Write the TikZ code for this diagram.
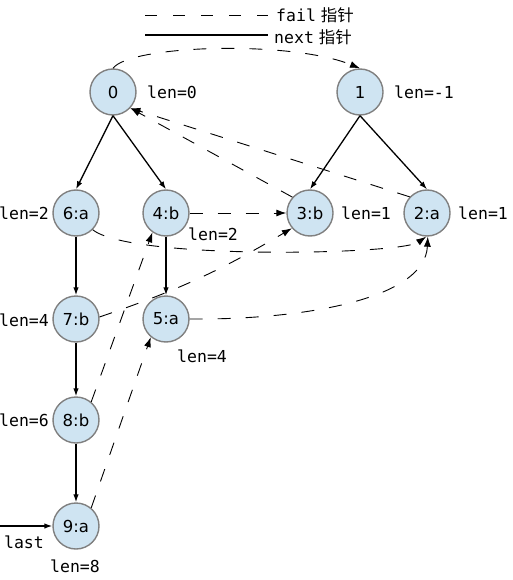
\documentclass[tikz,border=0pt]{standalone}
\usepackage{fontspec}
\setmainfont{DejaVu Sans}
\setmonofont{DejaVu Sans Mono}
\newfontfamily\cjk{Noto Sans CJK SC}
\usetikzlibrary{arrows.meta}
\definecolor{nodefill}{RGB}{207,228,242}
\definecolor{nodeline}{RGB}{128,128,128}
\begin{document}
\begin{tikzpicture}[x=1pt,y=-1pt,
  state/.style={circle,draw=nodeline,line width=1.4pt,fill=nodefill,minimum size=46pt,inner sep=0pt,font=\fontsize{16.5}{18}\selectfont},
  lab/.style={inner sep=0pt,font=\ttfamily\fontsize{16.5}{18}\selectfont},
  nextedge/.style={line width=1.3pt,-{Latex[length=8pt,width=5.5pt]}},
  failedge/.style={line width=0.9pt,dash pattern=on 13pt off 15pt,-{Latex[length=10pt,width=7pt]}},
]
\useasboundingbox (0,0) rectangle (512,580);
% legend
\coordinate (fa) at (145,15); \coordinate (fb) at (268,15);
\coordinate (na) at (145,35); \coordinate (nb) at (268,35);
\draw[line width=0.9pt,dash pattern=on 12pt off 16pt] (fa) -- (fb);
\draw[line width=1.3pt] (na) -- (nb);
\node[lab,anchor=west] (lf) at (276,15) {fail\hspace{5pt}{\cjk 指针}};
\node[lab,anchor=west] (ln) at (274,37) {next\hspace{5pt}{\cjk 指针}};
% nodes
\node[state] (n0) at (113,92) {0};
\node[state] (n1) at (360,92) {1};
\node[state] (n6) at (76,213) {6:a};
\node[state] (n4) at (166,213) {4:b};
\node[state] (n3) at (310,213) {3:b};
\node[state] (n2) at (427,213) {2:a};
\node[state] (n7) at (76,319) {7:b};
\node[state] (n5) at (166,319) {5:a};
\node[state] (n8) at (76,420) {8:b};
\node[state] (n9) at (76,526) {9:a};
% len labels
\node[lab,anchor=west] (l0) at (147,92) {len=0};
\node[lab,anchor=west] (l1) at (394,92) {len=-1};
\node[lab,anchor=west] (l6) at (-1,213) {len=2};
\node[lab,anchor=west] (l4) at (188,234) {len=2};
\node[lab,anchor=west] (l3) at (341,213) {len=1};
\node[lab,anchor=west] (l2) at (458,213) {len=1};
\node[lab,anchor=west] (l7) at (-1,320) {len=4};
\node[lab,anchor=west] (l5) at (177,356) {len=4};
\node[lab,anchor=west] (l8) at (-1,420) {len=6};
\node[lab] (l9) at (75,566) {len=8};
\node[lab] (llast) at (24,542) {last};
% next edges
\draw[nextedge] (n0.south) -- (n6.north);
\draw[nextedge] (n0.south) -- (n4.north);
\draw[nextedge] (n1.south) -- (n3.north);
\draw[nextedge] (n1.south) -- (n2.north);
\draw[nextedge] (n6) -- (n7);
\draw[nextedge] (n4) -- (n5);
\draw[nextedge] (n7) -- (n8);
\draw[nextedge] (n8) -- (n9);
\coordinate (lastin) at (0,526);
\draw[nextedge] (lastin) -- (n9.west);
% fail edges
\draw[failedge] (n0.north) .. controls (130,45) and (290,40) .. (n1.north);
\draw[failedge] (n3.138) -- (n0.-43);
\draw[failedge] (n2.137) -- (n0.-43);
\draw[failedge] (n4) -- (n3);
\draw[failedge] (n6.-45) .. controls (130,260) and (400,255) .. (n2.-92);
\draw[failedge] (n7.5) to[bend right=6] (n3.-140);
\draw[failedge] (n5.east) .. controls (300,320) and (425,300) .. (n2.-88);
\draw[failedge] (n8.50) -- (n4.-125);
\draw[failedge] (n9.50) -- (n5.-130);
\end{tikzpicture}
\end{document}
